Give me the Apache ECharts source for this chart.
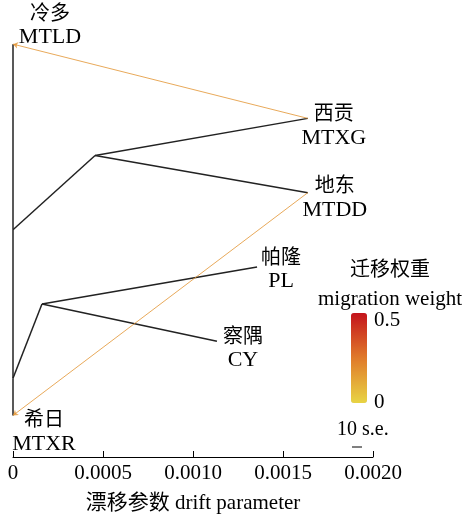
<!DOCTYPE html>
<html>
<head>
<meta charset="utf-8">
<script src="https://cdn.jsdelivr.net/npm/echarts@6/dist/echarts.min.js"></script>
<style>
  html, body { margin: 0; padding: 0; background: #fff; }
  #chart { width: 468px; height: 519px; }
</style>
</head>
<body>
<div id="chart"></div>
<script>
// tree nodes: name, drift (x), vertical slot (y)
const nodeNames = ['MTLD', 'MTXG', 'MTDD', 'PL', 'CY', 'MTXR', 'n1', 'n2', 'n3', 'n4'];
const nodeDrift = [0, 0.001638, 0.001638, 0.001356, 0.001133, 0, 0, 0.000456, 0, 0.000161];
const nodeSlot = [6, 5, 4, 3, 2, 1, 3.5, 4.5, 1.5, 2.5];
// leaf labels
const leafCn = { MTLD: '冷多', MTXG: '西贡', MTDD: '地东', PL: '帕隆', CY: '察隅', MTXR: '希日' };
const leafOffset = { MTLD: [37, -18], MTXG: [26, 8], MTDD: [27, 6], PL: [24, 3], CY: [26, 8], MTXR: [31, 17] };
// tree edges
const treeEdges = [
  ['MTLD', 'n1'], ['n1', 'n3'], ['n3', 'MTXR'],
  ['n1', 'n2'], ['n2', 'MTXG'], ['n2', 'MTDD'],
  ['n3', 'n4'], ['n4', 'PL'], ['n4', 'CY']
];
// migration edges: from, to, weight
const migrations = [
  ['MTXG', 'MTLD', 0.18],
  ['MTDD', 'MTXR', 0.18]
];
const xTicks = [0, 0.0005, 0.001, 0.0015, 0.002];

const serif = "'Liberation Serif', 'Noto Sans CJK SC', serif";

function pos(name) {
  const i = nodeNames.indexOf(name);
  return [nodeDrift[i], nodeSlot[i]];
}

const chart = echarts.init(document.getElementById('chart'));

const leaves = Object.keys(leafCn);

const option = {
  animation: false,
  grid: { left: 13, right: 95, top: 7, bottom: 57 },
  xAxis: {
    type: 'value',
    min: xTicks[0],
    max: xTicks[xTicks.length - 1],
    interval: 0.0005,
    splitLine: { show: false },
    axisLine: { lineStyle: { color: '#000', width: 1 } },
    axisTick: { inside: true, length: 6, lineStyle: { color: '#000' } },
    axisLabel: {
      color: '#000', fontFamily: serif, fontSize: 21, margin: 6,
      formatter: v => (v === 0 ? '0' : v.toFixed(4))
    },
    name: '漂移参数 drift parameter',
    nameLocation: 'middle',
    nameGap: 36,
    nameTextStyle: { color: '#000', fontFamily: serif, fontSize: 21 }
  },
  yAxis: { type: 'value', min: 0.44, max: 6.5, show: false },
  visualMap: {
    type: 'continuous',
    min: 0,
    max: 0.5,
    seriesIndex: 1,
    dimension: 0,
    left: 351,
    top: 313,
    padding: 0,
    itemWidth: 16,
    itemHeight: 90,
    calculable: false,
    showLabel: false,
    inRange: { color: ['#e8d444', '#e07a2a', '#c4141c'] }
  },
  series: [
    {
      type: 'lines',
      coordinateSystem: 'cartesian2d',
      silent: true,
      lineStyle: { color: '#222', width: 1.5, opacity: 1 },
      data: treeEdges.map(e => ({ coords: [pos(e[0]), pos(e[1])] }))
    },
    {
      type: 'lines',
      coordinateSystem: 'cartesian2d',
      silent: true,
      symbol: ['none', 'arrow'],
      symbolSize: 5,
      lineStyle: { width: 1, opacity: 0.8 },
      data: migrations.map(m => ({ coords: [pos(m[0]), pos(m[1])], value: m[2] }))
    },
    {
      type: 'scatter',
      symbolSize: 0,
      silent: true,
      itemStyle: { opacity: 1 },
      data: leaves.map(n => ({ name: n, value: pos(n) })),
      label: {
        show: true,
        position: 'inside',
        align: 'center',
        color: '#000',
        formatter: p => '{cn|' + leafCn[p.name] + '}\n{en|' + p.name + '}',
        rich: {
          cn: { fontFamily: serif, fontSize: 20, color: '#000', lineHeight: 23, align: 'center' },
          en: { fontFamily: serif, fontSize: 22, color: '#000', lineHeight: 23, align: 'center' }
        }
      },
      labelLayout: p => {
        const name = leaves[p.dataIndex];
        const o = leafOffset[name];
        return { dx: o[0], dy: o[1] };
      }
    }
  ],
  graphic: [
    { type: 'text', left: 350, top: 258, style: { text: '迁移权重', font: "20px 'Noto Sans CJK SC'", fill: '#000' } },
    { type: 'text', left: 318, top: 289, style: { text: 'migration weight', font: "21px 'Liberation Serif'", fill: '#000' } },
    { type: 'text', left: 374, top: 310, style: { text: '0.5', font: "21px 'Liberation Serif'", fill: '#000' } },
    { type: 'text', left: 374, top: 392, style: { text: '0', font: "21px 'Liberation Serif'", fill: '#000' } },
    { type: 'text', left: 337, top: 420, style: { text: '10 s.e.', font: "20px 'Liberation Serif'", fill: '#000' } },
    { type: 'line', shape: { x1: 352, y1: 447, x2: 362, y2: 447 }, style: { stroke: '#000', lineWidth: 1 } }
  ]
};

chart.setOption(option);
</script>
</body>
</html>
